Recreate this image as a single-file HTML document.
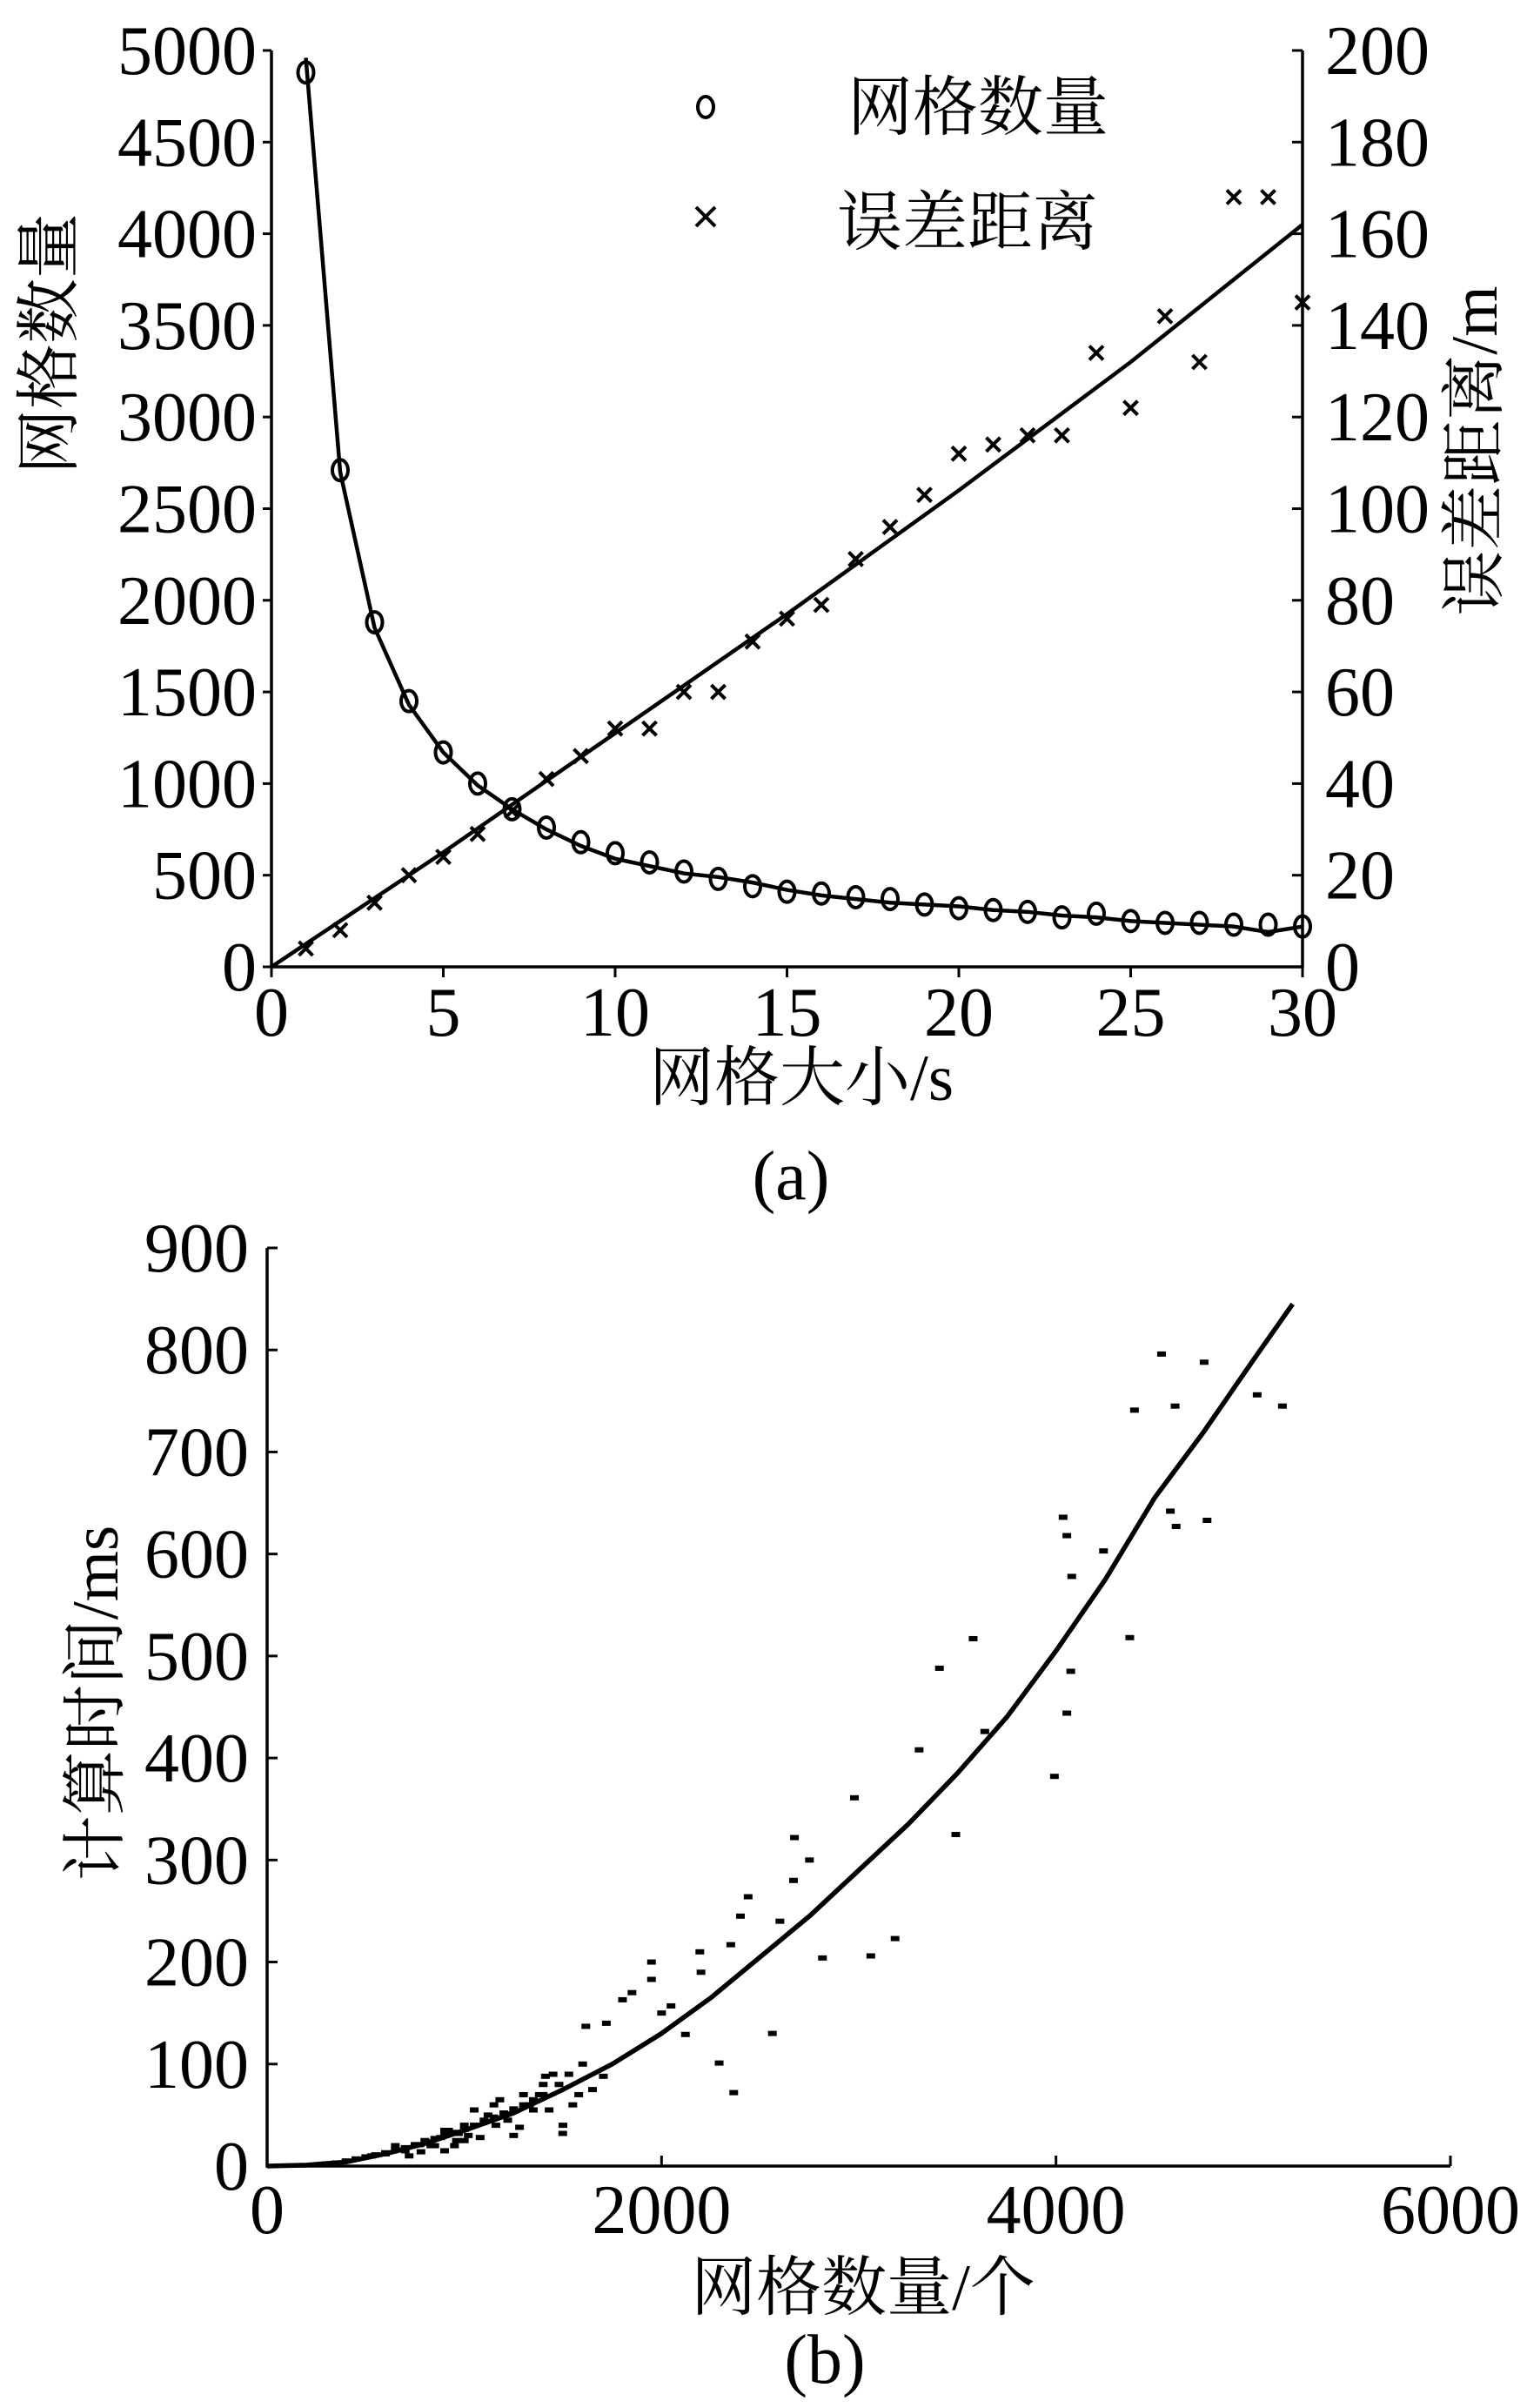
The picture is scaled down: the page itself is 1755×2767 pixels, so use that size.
<!DOCTYPE html>
<html><head><meta charset="utf-8"><style>
html,body{margin:0;padding:0;background:#fff}
svg{display:block}
text{font-family:"Liberation Serif","Noto Serif CJK SC",serif;fill:#000}
.zh{font-family:"Liberation Serif","Noto Serif CJK SC",serif}
</style></head><body>
<svg id="chart" width="1755" height="2767" viewBox="0 0 1755 2767" xmlns="http://www.w3.org/2000/svg">
<g id="topChart"></g>
<g id="botChart"></g>
</svg>
<script>
// ---- Chart (a) data ----
const gridSizes = [1,2,3,4,5,6,7,8,9,10,11,12,13,14,15,16,17,18,19,20,21,22,23,24,25,26,27,28,29,30];
const gridCounts = [4880,2710,1880,1450,1170,1000,860,760,680,620,570,520,480,440,410,400,380,370,340,320,310,300,270,290,250,240,240,230,230,220];
const gridCountFit = [4960,2700,1850,1430,1170,990,860,750,660,590,550,510,490,460,420,390,370,350,340,330,310,300,280,270,250,240,230,220,190,220];
const errorDist = [4,8,14,20,24,29,34,41,46,52,52,60,60,71,76,79,89,96,103,112,114,116,116,134,122,142,132,168,168,145];
const errorFitX = [0,5,10,15,20,25,30];
const errorFitY = [0,25,51,77,104,132,162];
const leftTicks = [0,500,1000,1500,2000,2500,3000,3500,4000,4500,5000];
const rightTicks = [0,20,40,60,80,100,120,140,160,180,200];
const xTicksA = [0,5,10,15,20,25,30];
// ---- Chart (b) data ----
const curveX = [0,200,400,600,800,1000,1250,1500,1750,2000,2250,2500,2750,3000,3250,3500,3750,4000,4250,4500,4750,5000,5200];
const curveY = [0,1,4,12,22,35,52,75,100,130,165,205,245,290,335,385,440,505,575,655,720,790,845];
const scatX = [5020,5148,4535,4751,4398,4604,4580,4609,4766,4036,4055,4241,4080,4374,4075,4055,3992,3639,3409,3580,3492,3306,2978,2816,3061,3184,2669,2674,2439,2351,2194,2366,2292,2562,1949,1949,2121,2048,1802,1616,1705,1499,1411,1215,970,774,529,1300,1350,1450,1550,1650,1100,1150,1250,1000,900,850,800,700,650,600,1050,1180,1400,1500,1600,1720,1850,2000,2200,2400,2600,2750,
 300,350,400,450,500,550,600,650,700,750,800,850,900,950,1000,1050,1100,1150,1200,1250,1300,1350,1400,720,780,830,880,920,960,1020,1080,1120,1160,1220,1280,1330,1380,1430,1480,1530,1580,900,950,1000];
const scatY = [756,745,796,788,741,745,642,627,633,636,618,603,578,518,485,444,382,426,488,517,325,408,361,204,206,223,280,322,264,217,210,72,101,130,183,200,129,157,163,137,88,32,88,51,32,21,10,70,55,90,60,75,45,60,30,40,35,20,25,15,20,12,55,65,80,40,100,140,170,150,190,245,240,300,
 2,3,5,7,9,11,13,16,18,21,24,27,30,33,36,40,44,48,52,56,60,65,70,10,14,20,28,35,25,30,28,50,40,45,38,60,70,55,80,90,70,15,20,25];
const yTicksB = [0,100,200,300,400,500,600,700,800,900];
const xTicksB = [0,2000,4000,6000];

const NS='http://www.w3.org/2000/svg';
function mk(parent,tag,attrs,txt){const e=document.createElementNS(NS,tag);for(const k in attrs)e.setAttribute(k,attrs[k]);if(txt!==undefined)e.textContent=txt;parent.appendChild(e);return e;}

// ---- Chart (a) ----
const A=document.getElementById('topChart');
const ax0=312,ax1=1497,ay0=1111,ay1=58;
const xA=v=>ax0+(v/30)*(ax1-ax0);
const yL=v=>ay0-(v/5000)*(ay0-ay1);
const yR=v=>ay0-(v/200)*(ay0-ay1);
let e;
e=mk(A,'path',{d:`M${ax0},${ay1}V${ay0}H${ax1}V${ay1}`,fill:'none',stroke:'#000','stroke-width':3.5});


leftTicks.forEach(t=>{
  e=mk(A,'line',{x1:ax0-10,x2:ax0,y1:yL(t),y2:yL(t),stroke:'#000','stroke-width':3});
  
  
  e=mk(A,'text',{x:295,y:yL(t)+27,'font-size':80,'text-anchor':'end'},String(t));
  
  
});
rightTicks.forEach(t=>{
  e=mk(A,'line',{x1:ax1-12,x2:ax1,y1:yR(t),y2:yR(t),stroke:'#000','stroke-width':3});
  
  
  e=mk(A,'text',{x:1523,y:yR(t)+27,'font-size':80,'text-anchor':'start'},String(t));
  
  
});
xTicksA.forEach(t=>{
  e=mk(A,'line',{x1:xA(t),x2:xA(t),y1:ay0,y2:ay0+12,stroke:'#000','stroke-width':3});
  
  
  e=mk(A,'text',{x:xA(t),y:1190,'font-size':80,'text-anchor':'middle'},String(t));
  
  
});
e=mk(A,'text',{x:921,y:1264,'font-size':75,'text-anchor':'middle',class:'zh'},'网格大小/s');


e=mk(A,'text',{x:909,y:1378,'font-size':80,'text-anchor':'middle'},'(a)');


e=mk(A,'text',{x:0,y:0,'font-size':75,'text-anchor':'middle',class:'zh',transform:'translate(82,395) rotate(-90)'},'网格数量');


e=mk(A,'text',{x:0,y:0,'font-size':75,'text-anchor':'middle',class:'zh',transform:'translate(1720,518) rotate(-90)'},'误差距离/m');


e=mk(A,'polyline',{points:gridSizes.map((x,i)=>xA(x)+','+yL(gridCountFit[i])).join(' '),fill:'none',stroke:'#000','stroke-width':4.5,'stroke-linejoin':'round'});


e=mk(A,'polyline',{points:errorFitX.map((x,i)=>xA(x)+','+yR(errorFitY[i])).join(' '),fill:'none',stroke:'#000','stroke-width':4.5});


gridSizes.forEach((x,i)=>{
  e=mk(A,'ellipse',{cx:xA(x),cy:yL(gridCounts[i]),rx:9,ry:12,fill:'none',stroke:'#000','stroke-width':4});
  
  
  const cx=xA(x),cy=yR(errorDist[i]),s=8;
  e=mk(A,'path',{d:`M${cx-s},${cy-s}L${cx+s},${cy+s}M${cx+s},${cy-s}L${cx-s},${cy+s}`,stroke:'#000','stroke-width':4});
  
  
});
e=mk(A,'ellipse',{cx:811,cy:123,rx:9,ry:12,fill:'none',stroke:'#000','stroke-width':4});


e=mk(A,'text',{x:974,y:149,'font-size':75,class:'zh'},'网格数量');


e=mk(A,'path',{d:'M800,238L822,260M822,238L800,260',stroke:'#000','stroke-width':4});


e=mk(A,'text',{x:962,y:281,'font-size':75,class:'zh'},'误差距离');



// ---- Chart (b) ----
const B=document.getElementById('botChart');
const bx0=307,bx1=1667,by0=2489,by1=1434;
const xB=v=>bx0+(v/6000)*(bx1-bx0);
const yB=v=>by0-(v/900)*(by0-by1);
e=mk(B,'path',{d:`M${bx0},${by1}V${by0}H${bx1}`,fill:'none',stroke:'#000','stroke-width':3.5});


yTicksB.forEach(t=>{
  e=mk(B,'line',{x1:bx0,x2:bx0+12,y1:yB(t),y2:yB(t),stroke:'#000','stroke-width':3});
  
  
  e=mk(B,'text',{x:286,y:yB(t)+27,'font-size':80,'text-anchor':'end'},String(t));
  
  
});
xTicksB.forEach(t=>{
  e=mk(B,'line',{x1:xB(t),x2:xB(t),y1:by0-12,y2:by0,stroke:'#000','stroke-width':3});
  
  
  e=mk(B,'text',{x:xB(t),y:2566,'font-size':80,'text-anchor':'middle'},String(t));
  
  
});
e=mk(B,'text',{x:992,y:2654,'font-size':75,'text-anchor':'middle',class:'zh'},'网格数量/个');


e=mk(B,'text',{x:948,y:2738,'font-size':80,'text-anchor':'middle'},'(b)');


e=mk(B,'text',{x:0,y:0,'font-size':75,'text-anchor':'middle',class:'zh',transform:'translate(135,1957) rotate(-90)'},'计算时间/ms');


scatX.forEach((x,i)=>{
  e=mk(B,'rect',{x:xB(x)-5,y:yB(scatY[i])-3,width:10,height:6,fill:'#000'});
  
  
});
e=mk(B,'polyline',{points:curveX.map((x,i)=>xB(x)+','+yB(curveY[i])).join(' '),fill:'none',stroke:'#000','stroke-width':5.5,'stroke-linejoin':'round'});


</script>
</body></html>
